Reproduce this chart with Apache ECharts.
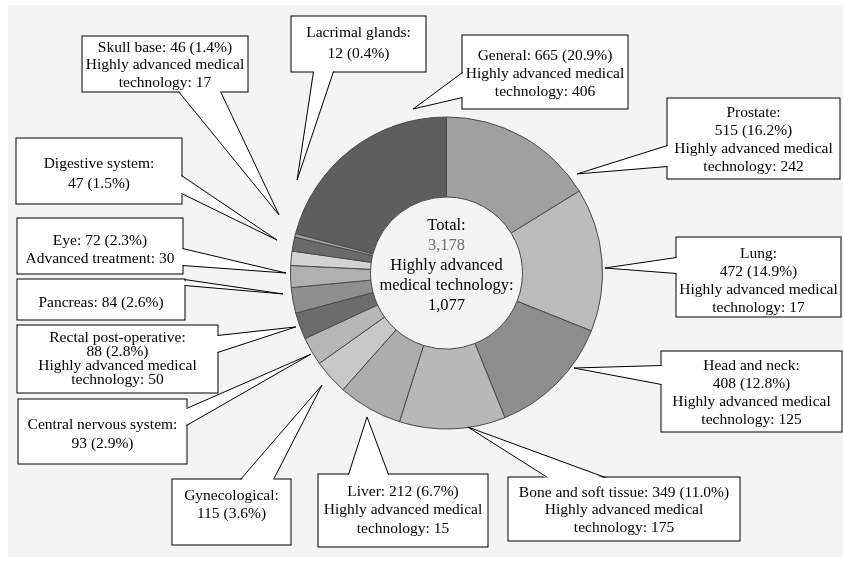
<!DOCTYPE html>
<html>
<head>
<meta charset="utf-8">
<script src="https://cdn.jsdelivr.net/npm/echarts@6/dist/echarts.min.js"></script>
<style>
  html, body { margin: 0; padding: 0; background: #fff; }
  #chart { width: 843px; height: 562px; }
</style>
</head>
<body>
<div id="chart"></div>
<script>
// Treatment sites, clockwise from 12 o'clock
const categories = [
  'Prostate', 'Lung', 'Head and neck', 'Bone and soft tissue', 'Liver',
  'Gynecological', 'Central nervous system', 'Rectal post-operative',
  'Pancreas', 'Eye', 'Digestive system', 'Skull base', 'Lacrimal glands', 'General'
];
// Number of cases per site
const cases = [515, 472, 408, 349, 212, 115, 93, 88, 84, 72, 47, 46, 12, 665];
// Cases under highly advanced medical technology / advanced treatment (null = none)
const advancedCases = [242, 17, 125, 175, 15, null, null, 50, null, 30, null, 17, null, 406];
const advancedTerms = [
  'Highly advanced medical\ntechnology', 'Highly advanced medical\ntechnology',
  'Highly advanced medical\ntechnology', 'Highly advanced medical\ntechnology',
  'Highly advanced medical\ntechnology', null, null,
  'Highly advanced medical\ntechnology', null, 'Advanced treatment', null,
  'Highly advanced medical\ntechnology', null, 'Highly advanced medical\ntechnology'
];
// Centre caption
const totalCaption = 'Total:';
const advancedCaption = ['Highly advanced', 'medical technology:'];

// ---- styling & layout ----
const sliceColors = [
  '#a0a0a0', '#bcbcbc', '#8e8e8e', '#b8b8b8', '#adadad',
  '#c8c8c8', '#b7b7b7', '#6c6c6c', '#8f8f8f', '#b0b0b0',
  '#d3d3d3', '#6a6a6a', '#9d9d9d', '#5e5e5e'
];
const pieCenter = [446.5, 273];
const pieRadius = [76, 156];
const FONT = '"Liberation Serif", "Times New Roman", serif';

// Callout boxes: box rect, line height, first-line centre offset,
// wedge base points and wedge tip (angle clockwise from top, radius ratio)
const callouts = [
  { x: 667, y: 98,  w: 172, h: 80, lh: 18.3, off: 14, breakName: true,  base: [[667, 145], [667, 166]], tipA: 52.8,  tipR: 1.05 },
  { x: 676, y: 237, w: 164, h: 79, lh: 18,   off: 16, breakName: true,  base: [[676, 257], [676, 273]], tipA: 88.2,  tipR: 1.016 },
  { x: 661, y: 351, w: 180, h: 80, lh: 18,   off: 14, breakName: true,  base: [[661, 365], [661, 384]], tipA: 126.7, tipR: 1.019 },
  { x: 508, y: 477, w: 231, h: 63, lh: 17.5, off: 15, breakName: false, base: [[547, 477], [605, 477]], tipA: 172.1, tipR: 0.997 },
  { x: 318, y: 474, w: 169, h: 72, lh: 18.5, off: 17, breakName: false, base: [[348, 474], [388, 474]], tipA: 208.9, tipR: 1.054 },
  { x: 172, y: 479, w: 118, h: 65, lh: 18,   off: 16, breakName: true,  base: [[240, 479], [273, 479]], tipA: 228.0, tipR: 1.074 },
  { x: 18,  y: 399, w: 168, h: 64, lh: 19,   off: 25, breakName: true,  base: [[186, 408], [186, 425]], tipA: 239.1, tipR: 1.012 },
  { x: 17,  y: 325, w: 200, h: 67, lh: 14.3, off: 12, breakName: true,  base: [[217, 335], [217, 352]], tipA: 250.3, tipR: 1.025 },
  { x: 17,  y: 279, w: 167, h: 40, lh: 18,   off: 23, breakName: false, base: [[184, 279], [184, 285]], tipA: 262.7, tipR: 1.057 },
  { x: 17,  y: 218, w: 165, h: 55, lh: 18,   off: 22, breakName: false, base: [[182, 248], [182, 265]], tipA: 270.0, tipR: 1.029 },
  { x: 16,  y: 138, w: 165, h: 65, lh: 20,   off: 25, breakName: true,  base: [[181, 175], [181, 193]], tipA: 281.0, tipR: 1.107 },
  { x: 82,  y: 36,  w: 165, h: 55, lh: 17.5, off: 11, breakName: false, base: [[178, 91], [220, 91]],   tipA: 289.1, tipR: 1.136 },
  { x: 291, y: 16,  w: 134, h: 55, lh: 21,   off: 16, breakName: true,  base: [[313, 71], [333, 71]],   tipA: 301.9, tipR: 1.128 },
  { x: 462, y: 35,  w: 165, h: 73, lh: 18,   off: 20, breakName: false, base: [[462, 72], [462, 97]],   tipA: 348.5, tipR: 1.073 }
];

const total = cases.reduce((s, v) => s + v, 0);
const advancedTotal = advancedCases.reduce((s, v) => s + (v || 0), 0);
const fmt = n => n.toLocaleString('en-US');

function calloutText(i) {
  const pct = (cases[i] / total * 100).toFixed(1);
  let s = categories[i] + ':' + (callouts[i].breakName ? '\n' : ' ') + fmt(cases[i]) + ' (' + pct + '%)';
  if (advancedCases[i] != null) s += '\n' + advancedTerms[i] + ': ' + fmt(advancedCases[i]);
  return s;
}

const seriesData = categories.map((name, i) => {
  const c = callouts[i];
  const lines = calloutText(i).split('\n').length;
  const padTop = c.off - c.lh / 2;
  const padBottom = Math.max(0, c.h - padTop - lines * c.lh);
  return {
    name: name,
    value: cases[i],
    itemStyle: { color: sliceColors[i] },
    label: { width: c.w, lineHeight: c.lh, padding: [padTop, 0, padBottom, 0] }
  };
});

// Wedge pointers joining each box to its slice
const wedgeElements = [];
callouts.forEach(c => {
  const a = c.tipA * Math.PI / 180;
  const r = pieRadius[1] * c.tipR;
  const tip = [pieCenter[0] + r * Math.sin(a), pieCenter[1] - r * Math.cos(a)];
  const right = c.x + c.w, bottom = c.y + c.h;
  const px = p => [p[0] + 0.5, p[1] + 0.5];
  const inset = p => {
    let [x, y] = p;
    if (Math.abs(x - c.x) < 1) x += 1.6;
    if (Math.abs(x - right) < 1) x -= 1.6;
    if (Math.abs(y - c.y) < 1) y += 1.6;
    if (Math.abs(y - bottom) < 1) y -= 1.6;
    return [x + 0.5, y + 0.5];
  };
  wedgeElements.push({
    type: 'polygon', z: 50, silent: true,
    shape: { points: [inset(c.base[0]), tip, inset(c.base[1])] },
    style: { fill: '#fff', stroke: null }
  });
  wedgeElements.push({
    type: 'polyline', z: 51, silent: true,
    shape: { points: [px(c.base[0]), tip, px(c.base[1])] },
    style: { stroke: '#000', lineWidth: 1, fill: null }
  });
});

const chart = echarts.init(document.getElementById('chart'), null, { renderer: 'canvas' });
chart.setOption({
  animation: false,
  backgroundColor: '#ffffff',
  graphic: [
    { type: 'rect', z: -10, silent: true, shape: { x: 8, y: 5, width: 835, height: 552 }, style: { fill: '#f4f4f4' } },
    {
      type: 'text', z: 60, silent: true, x: pieCenter[0], y: 266,
      style: {
        text: '{a|' + totalCaption + '}\n{b|' + fmt(total) + '}\n{a|' + advancedCaption[0] + '}\n{a|' + advancedCaption[1] + '}\n{a|' + fmt(advancedTotal) + '}',
        align: 'center', verticalAlign: 'middle',
        rich: {
          a: { fontFamily: FONT, fontSize: 16.5, lineHeight: 20, fill: '#000', align: 'center' },
          b: { fontFamily: FONT, fontSize: 16.5, lineHeight: 20, fill: '#707070', align: 'center' }
        }
      }
    }
  ].concat(wedgeElements),
  series: [{
    type: 'pie',
    center: pieCenter,
    radius: pieRadius,
    startAngle: 90,
    clockwise: true,
    avoidLabelOverlap: false,
    silent: true,
    emphasis: { disabled: true },
    itemStyle: { borderColor: '#4a4a4a', borderWidth: 1 },
    labelLine: { show: false },
    label: {
      show: true,
      position: 'outside',
      formatter: p => calloutText(p.dataIndex),
      fontFamily: FONT,
      fontSize: 15.5,
      color: '#000',
      align: 'center',
      overflow: 'none',
      backgroundColor: '#fff',
      borderColor: '#000',
      borderWidth: 1
    },
    labelLayout: params => {
      const c = callouts[params.dataIndex];
      return { x: c.x + 0.5 + c.w / 2, y: c.y + 0.5, align: 'center', verticalAlign: 'top' };
    },
    data: seriesData
  }]
});
</script>
</body>
</html>
